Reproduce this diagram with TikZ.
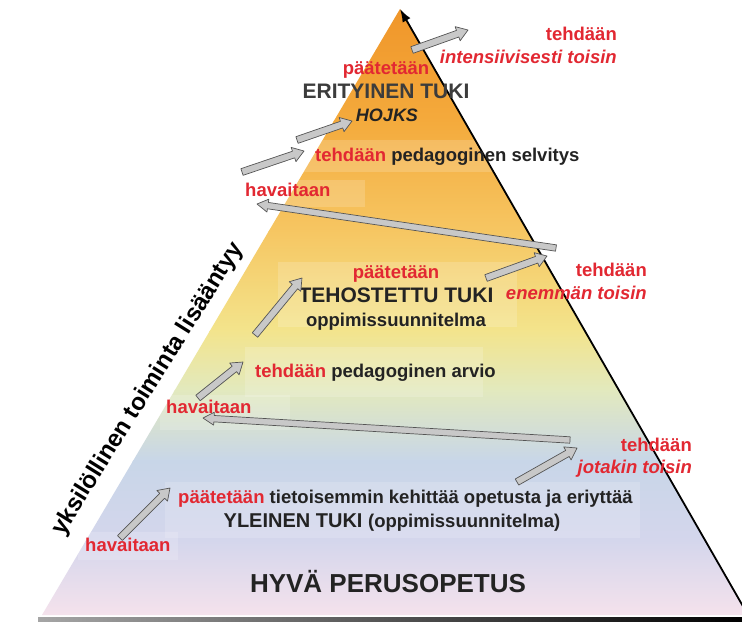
\documentclass[tikz,border=0pt]{standalone}
\usepackage{fontspec}
\setmainfont{Liberation Sans}
\usetikzlibrary{arrows.meta}
\definecolor{hred}{RGB}{226,40,50}
\definecolor{htxt}{RGB}{35,35,35}
\definecolor{hgray}{RGB}{60,60,60}
\definecolor{agray}{RGB}{200,200,200}
\definecolor{aedge}{RGB}{85,85,85}
\definecolor{c1}{RGB}{240,150,42}
\definecolor{c2}{RGB}{244,170,60}
\definecolor{c3}{RGB}{246,198,98}
\definecolor{c4}{RGB}{243,228,140}
\definecolor{c5}{RGB}{226,233,190}
\definecolor{c6}{RGB}{200,214,232}
\definecolor{c7}{RGB}{212,214,236}
\definecolor{c8}{RGB}{245,226,236}
\newcommand\fsz[1]{\fontsize{#1}{#1}\selectfont}
\tikzset{
  lbl/.style={inner sep=0pt, font=\bfseries\fsz{18.5}, text=htxt},
  rtxt/.style={lbl, text=hred},
  rit/.style={lbl, text=hred, font=\bfseries\itshape\fsz{18.5}},
  blockarrow/.style={fill=agray, draw=aedge, line width=0.7pt, line join=round},
  glow/.style={fill=white, fill opacity=0.17, draw=none},
}
\newcommand\garrow[5]{%
  \path (#1); \pgfgetlastxy{\gax}{\gay}%
  \path (#2); \pgfgetlastxy{\gbx}{\gby}%
  \pgfmathsetmacro\gang{atan2((\gby)-(\gay),(\gbx)-(\gax))}%
  \pgfmathsetmacro\glen{veclen((\gbx)-(\gax),(\gby)-(\gay))}%
  \draw[blockarrow, shift={(\gax,\gay)}, rotate=\gang]
    (0pt,-#3pt) -- ({\glen pt-#5pt},-#3pt) -- ({\glen pt-#5pt},-#4pt) -- (\glen pt,0pt)
    -- ({\glen pt-#5pt},#4pt) -- ({\glen pt-#5pt},#3pt) -- (0pt,#3pt) -- cycle;
}
\begin{document}
\begin{tikzpicture}[x=1pt,y=-1pt]
\useasboundingbox (0,0) rectangle (742,622);
\fill[white] (0,0) rectangle (742,622);
\begin{scope}
\clip (0,0) rectangle (742,622);
% triangle fill
\coordinate (apex) at (400,9);
\coordinate (lb) at (42,615);
\coordinate (rb) at (748,615);
\begin{scope}
\clip (apex) -- (lb) -- (rb) -- cycle;
\shade[top color=c1, bottom color=c2] (0,9) rectangle (742,121);
\shade[top color=c2, bottom color=c3] (0,120) rectangle (742,231);
\shade[top color=c3, bottom color=c4] (0,230) rectangle (742,331);
\shade[top color=c4, bottom color=c5] (0,330) rectangle (742,391);
\shade[top color=c5, bottom color=c6] (0,390) rectangle (742,461);
\shade[top color=c6, bottom color=c7] (0,460) rectangle (742,541);
\shade[top color=c7, bottom color=c8] (0,540) rectangle (742,616);
% light panels behind texts
\fill[glow] (233,180) rectangle (365,207);
\fill[glow] (300,140) rectangle (590,172);
\fill[glow] (278,262) rectangle (517,327);
\fill[glow] (245,347) rectangle (483,397);
\fill[glow] (160,395) rectangle (290,430);
\fill[glow] (165,482) rectangle (640,538);
\fill[glow] (78,532) rectangle (178,560);
\end{scope}
% base line
\shade[left color=gray!70, right color=black] (38,617) rectangle (742,621);
% right edge arrow
\draw[line width=1.8pt, -{Latex[length=13pt,width=9pt]}] (rb) -- (apex);
\end{scope}

% texts
\node[rtxt, anchor=base east] (t1) at (617,40) {tehdään};
\node[rit, anchor=base east] (t2) at (617,63) {intensiivisesti toisin};
\node[rtxt, anchor=base] (p1) at (386,74) {päätetään};
\node[lbl, anchor=base, text=hgray, font=\bfseries\fsz{21}] (eri) at (386,98.5) {ERITYINEN TUKI};
\node[lbl, anchor=base, font=\bfseries\itshape\fsz{18}] (hojks) at (387,121.5) {HOJKS};
\node[lbl, anchor=base west] (sel) at (315,161) {\textcolor{hred}{tehdään} pedagoginen selvitys};
\node[rtxt, anchor=base west] (h1) at (245,196) {havaitaan};
\node[rtxt, anchor=base] (p2) at (396,278) {päätetään};
\node[lbl, anchor=base, font=\bfseries\fsz{21}] (teh) at (396,302.5) {TEHOSTETTU TUKI};
\node[lbl, anchor=base] (ops) at (396,326) {oppimissuunnitelma};
\node[rtxt, anchor=base east] (t3) at (647,276) {tehdään};
\node[rit, anchor=base east] (t4) at (647,299) {enemmän toisin};
\node[lbl, anchor=base west] (arv) at (255,377) {\textcolor{hred}{tehdään} pedagoginen arvio};
\node[rtxt, anchor=base west] (h2) at (166,413) {havaitaan};
\node[rtxt, anchor=base east] (t5) at (692,451) {tehdään};
\node[rit, anchor=base east] (t6) at (692,473) {jotakin toisin};
\node[lbl, anchor=base west] (tie) at (178,503) {\textcolor{hred}{päätetään} tietoisemmin kehittää opetusta ja eriyttää};
\node[lbl, anchor=base, font=\bfseries\fsz{20}] (yle) at (392,527) {YLEINEN TUKI {\fsz{18.5}(oppimissuunnitelma)}};
\node[rtxt, anchor=base west] (h3) at (85,551) {havaitaan};
\node[lbl, anchor=base, font=\bfseries\fsz{26}] (hyva) at (388,592) {HYVÄ PERUSOPETUS};
\node[lbl, text=black, font=\bfseries\fsz{24}, rotate=58] (side) at (148,389) {yksilöllinen toiminta lisääntyy};

% arrow coordinates
\coordinate (a1s) at (412,50);  \coordinate (a1e) at (468,30);
\coordinate (a2s) at (297,140); \coordinate (a2e) at (352,121);
\coordinate (a3s) at (242,172); \coordinate (a3e) at (304,151);
\coordinate (l1s) at (556,248); \coordinate (l1e) at (257,204);
\coordinate (a4s) at (486,278); \coordinate (a4e) at (547,256);
\coordinate (a5s) at (255,335); \coordinate (a5e) at (302,278);
\coordinate (a6s) at (198,398); \coordinate (a6e) at (243,362);
\coordinate (l2s) at (570,440); \coordinate (l2e) at (203,418);
\coordinate (a7s) at (517,482); \coordinate (a7e) at (577,448);
\coordinate (a8s) at (120,538); \coordinate (a8e) at (170,488);

\garrow{a1s}{a1e}{3.5}{7.5}{11}
\garrow{a2s}{a2e}{3.5}{7.5}{11}
\garrow{a3s}{a3e}{3.5}{7.5}{11}
\garrow{l1s}{l1e}{3.2}{6.5}{11}
\garrow{a4s}{a4e}{3.5}{7.5}{11}
\garrow{a5s}{a5e}{3.5}{7.5}{11}
\garrow{a6s}{a6e}{3.5}{7.5}{11}
\garrow{l2s}{l2e}{3.2}{6.5}{11}
\garrow{a7s}{a7e}{3.5}{7.5}{11}
\garrow{a8s}{a8e}{3.5}{7.5}{11}
\end{tikzpicture}
\end{document}
